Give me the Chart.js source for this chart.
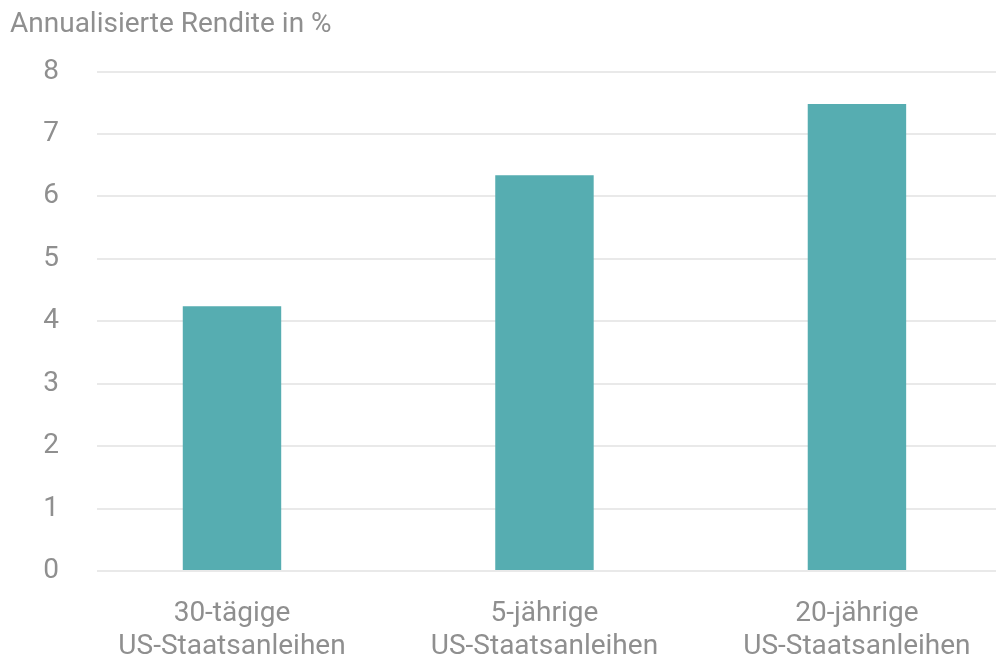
<!DOCTYPE html>
<html>
<head>
<meta charset="utf-8">
<script src="https://cdn.jsdelivr.net/npm/chart.js@4/dist/chart.umd.min.js"></script>
<style>
  html, body { margin: 0; padding: 0; background: #fff; overflow: hidden; }
  #wrap { width: 996px; height: 663px; }
</style>
</head>
<body>
<div id="wrap"><canvas id="chart"></canvas></div>
<script>
const categories = [
  ["30-tägige", "US-Staatsanleihen"],
  ["5-jährige", "US-Staatsanleihen"],
  ["20-jährige", "US-Staatsanleihen"]
];
const rendite = [4.24, 6.34, 7.48];
const yTicks = [0, 1, 2, 3, 4, 5, 6, 7, 8];
const titel = "Annualisierte Rendite in %";

const grau = "#8f8f8f";
const fontFamily = "Roboto, 'Liberation Sans', sans-serif";

// Balken auf einer linearen x-Achse, Positionen 1..3
const punkte = rendite.map((v, i) => ({ x: i + 1, y: v }));

new Chart(document.getElementById("chart"), {
  type: "bar",
  data: {
    datasets: [{
      data: punkte,
      backgroundColor: "#56adb1",
      borderWidth: 0,
      barPercentage: 0.315,
      categoryPercentage: 1
    }]
  },
  options: {
    responsive: true,
    maintainAspectRatio: false,
    animation: false,
    layout: { padding: { left: 10, right: 0, top: 8, bottom: 0 } },
    plugins: {
      legend: { display: false },
      tooltip: { enabled: false },
      title: {
        display: true,
        text: titel,
        align: "start",
        color: grau,
        font: { family: fontFamily, size: 28, weight: "normal" },
        padding: { top: 0, bottom: 30 }
      }
    },
    scales: {
      x: {
        type: "linear",
        offset: false,
        min: 0.568,
        max: 3.445,
        grid: { display: false },
        border: { display: false },
        afterFit: (scale) => { scale.height = 92; },
        afterBuildTicks: (scale) => {
          scale.ticks = categories.map((c, i) => ({ value: i + 1 }));
        },
        ticks: {
          color: grau,
          font: { family: fontFamily, size: 28 },
          padding: 18,
          maxRotation: 0,
          autoSkip: false,
          callback: (v) => categories[v - 1]
        }
      },
      y: {
        min: 0,
        max: 8,
        afterFit: (scale) => { scale.width = 87; },
        afterBuildTicks: (scale) => {
          scale.ticks = yTicks.map((v) => ({ value: v }));
        },
        grid: { color: "#e9e9e9", lineWidth: 2, drawTicks: false },
        border: { display: false },
        ticks: {
          color: grau,
          font: { family: fontFamily, size: 28 },
          padding: 38
        }
      }
    }
  }
});
</script>
</body>
</html>
